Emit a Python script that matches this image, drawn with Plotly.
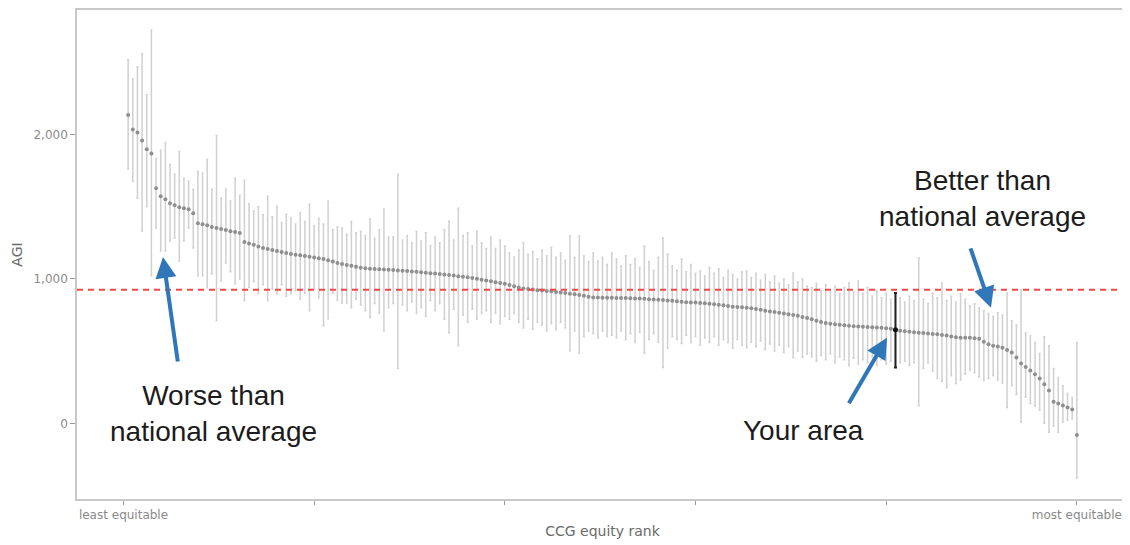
import plotly.graph_objects as go

# ---------------- data ----------------
rank = list(range(1, 206))

agi = [
    2135, 2034, 2014, 1959, 1897, 1869, 1628, 1572, 1552, 1524,
    1510, 1497, 1490, 1483, 1455, 1386, 1379, 1372, 1359, 1352,
    1345, 1338, 1330, 1324, 1318, 1255, 1245, 1236, 1224, 1214,
    1207, 1200, 1193, 1186, 1179, 1172, 1168, 1163, 1158, 1153,
    1148, 1143, 1138, 1129, 1120, 1111, 1103, 1097, 1091, 1085,
    1078, 1074, 1071, 1069, 1067, 1065, 1063, 1061, 1059, 1057,
    1055, 1052, 1049, 1046, 1043, 1040, 1037, 1034, 1031, 1027,
    1023, 1019, 1015, 1011, 1007, 1001, 995, 989, 983, 977,
    972, 966, 958, 950, 941, 934, 930, 926, 922, 919,
    917, 914, 910, 906, 902, 898, 894, 889, 884, 877,
    872, 871, 870, 869, 869, 868, 868, 867, 866, 865,
    864, 862, 860, 858, 856, 854, 851, 848, 845, 841,
    839, 837, 836, 834, 831, 828, 825, 821, 817, 812,
    808, 805, 803, 800, 797, 792, 786, 779, 775, 771,
    766, 761, 756, 750, 745, 737, 729, 720, 711, 702,
    695, 690, 686, 682, 679, 676, 673, 671, 669, 667,
    665, 663, 661, 659, 655, 648, 641, 637, 634, 631,
    628, 625, 622, 619, 616, 612, 608, 601, 596, 593,
    593, 593, 589, 586, 565, 548, 538, 532, 524, 508,
    490, 455, 414, 390, 366, 340, 310, 270, 228, 150,
    138, 124, 110, 95, -80,
]

upper = [
    2517, 2386, 2469, 2559, 2276, 2724, 1834, 1890, 1945, 1793,
    1724, 1883, 1697, 1676, 1621, 1745, 1731, 1828, 1620, 1993,
    1560, 1621, 1540, 1697, 1580, 1683, 1520, 1470, 1500, 1445,
    1572, 1430, 1503, 1390, 1448, 1421, 1380, 1460, 1400, 1517,
    1370, 1420, 1380, 1538, 1340, 1360, 1352, 1310, 1400, 1320,
    1330, 1300, 1414, 1280, 1340, 1483, 1290, 1290, 1724, 1270,
    1300, 1250, 1330, 1260, 1320, 1230, 1290, 1250, 1340, 1400,
    1270, 1490, 1300, 1320, 1230, 1330, 1250, 1210, 1290, 1210,
    1270, 1228, 1180, 1150, 1200, 1250, 1170, 1190, 1140, 1200,
    1160, 1220, 1150, 1180, 1130, 1297, 1150, 1297, 1160, 1120,
    1180, 1124, 1150, 1100, 1180, 1138, 1090, 1160, 1100, 1140,
    1080, 1228, 1120, 1060, 1150, 1283, 1172, 1090, 1060, 1138,
    1050, 1100, 1040, 1055, 1020, 1080, 1040, 1070, 1010, 1060,
    1030, 1000, 1050, 1055, 1010, 1040, 990, 1030, 980, 1020,
    970, 1000, 960, 1041, 980, 1000, 950, 940, 970, 920,
    960, 910, 950, 900, 940, 972, 910, 986, 900, 940,
    880, 920, 870, 900, 860, 903, 870, 840, 880, 850,
    1145, 860, 830, 900, 870, 972, 850, 880, 840, 897,
    860, 814, 828, 800, 779, 760, 740, 766, 750, 903,
    710, 680, 924, 628, 607, 560, 483, 600, 538, 380,
    317, 260, 207, 179, 559,
]

lower = [
    1759, 1676, 1559, 1331, 1500, 1021, 1352, 1193, 1193, 1262,
    1283, 1124, 1262, 1352, 1214, 1021, 1021, 938, 1034, 710,
    986, 1110, 1050, 966, 1000, 848, 940, 980, 900, 960,
    848, 930, 897, 960, 880, 897, 920, 860, 900, 779,
    930, 870, 676, 724, 900, 850, 834, 834, 800, 860,
    820, 780, 731, 830, 760, 641, 800, 830, 379, 820,
    780, 840, 760, 800, 740, 850, 780, 830, 720, 628,
    790, 538, 750, 700, 790, 720, 760, 780, 700, 760,
    690, 740, 720, 760, 700, 660, 720, 650, 700, 680,
    640, 690, 650, 700, 660, 503, 640, 483, 600, 640,
    620, 590, 640, 600, 610, 593, 640, 580, 620, 560,
    630, 483, 580, 620, 560, 386, 520, 600, 580, 552,
    610, 560, 600, 540, 590, 560, 600, 540, 580, 560,
    520, 580, 540, 524, 560, 530, 570, 510, 550, 500,
    540, 490, 530, 455, 500, 455, 480, 460, 430, 470,
    440, 480, 420, 460, 440, 400, 450, 410, 440, 420,
    460, 400, 440, 410, 430, 386, 420, 430, 400, 420,
    124, 380, 420, 360, 310, 290, 248, 330, 276, 300,
    340, 366, 350, 320, 297, 310, 330, 300, 280, 110,
    260, 200, 7, 180, 138, 120, 90, 0, -62, -20,
    -62, 10, 21, 30, -379,
]

national_average = 925
your_area_rank = 166

tick_ranks = [0, 41, 82, 123, 164, 205]
tick_labels = ["least equitable", "", "", "", "", "most equitable"]
y_ticks = [0, 1000, 2000]
y_tick_labels = ["0", "1,000", "2,000"]

# ---------------- figure ----------------
err_plus = [u - c for u, c in zip(upper, agi)]
err_minus = [c - l for c, l in zip(agi, lower)]

fig = go.Figure()

fig.add_trace(go.Scatter(
    x=rank, y=agi, mode="markers",
    marker=dict(color="#8f8f8f", size=4),
    error_y=dict(type="data", symmetric=False, array=err_plus, arrayminus=err_minus,
                 color="#d0d0d0", thickness=1.5, width=1),
    showlegend=False, hoverinfo="skip",
))

k = your_area_rank - 1
fig.add_trace(go.Scatter(
    x=[rank[k]], y=[agi[k]], mode="markers",
    marker=dict(color="#111111", size=5),
    error_y=dict(type="data", symmetric=False, array=[upper[k] - agi[k]],
                 arrayminus=[agi[k] - lower[k]], color="#222222", thickness=2, width=1.5),
    showlegend=False, hoverinfo="skip",
))

fig.add_shape(type="line", xref="paper", yref="y", x0=0, x1=1,
              y0=national_average, y1=national_average,
              line=dict(color="#f04848", width=2, dash="6px,5px"))

# page body has an 8px margin: the figure box starts at (8, 8) in the window
OFF = 8
W, H = 1130 - OFF, 545 - OFF
PL, PR, PT, PB = 77, 1128, 8, 499   # plot box in window pixels


def px(xp):
    return (xp - PL) / (PR - PL)


def py(yp):
    return (PB - yp) / (PB - PT)


text_font = dict(family="Liberation Sans, Arial, sans-serif", size=28, color="#1c1c1c")
for txt, cx, cy in [("Worse than<br>national average", 213, 413),
                    ("Your area", 803, 430),
                    ("Better than<br>national average", 982, 197)]:
    fig.add_annotation(text=txt, xref="paper", yref="paper", x=px(cx), y=py(cy),
                       showarrow=False, font=text_font, xanchor="center", yanchor="middle")

arrow_color = "#2f77b8"
for (hx, hy), (tx, ty) in [((163, 256), (178, 362)),
                           ((887, 337), (848, 404)),
                           ((991, 307), (970, 246))]:
    fig.add_annotation(text="", xref="paper", yref="paper", x=px(hx), y=py(hy),
                       ax=tx - hx, ay=ty - hy, showarrow=True,
                       arrowhead=2, arrowsize=1.05, arrowwidth=4, arrowcolor=arrow_color,
                       standoff=0, startstandoff=0)

axis_font = dict(family="DejaVu Sans, sans-serif", size=12, color="#8a8a8a")
title_font = dict(family="DejaVu Sans, sans-serif", size=14, color="#6a6a6a")
fig.update_xaxes(range=[-10, 216], tickvals=tick_ranks, ticktext=tick_labels,
                 ticks="outside", ticklen=4, tickcolor="#9a9a9a", tickwidth=1,
                 showgrid=False, zeroline=False,
                 showline=True, mirror=True, linecolor="#c8c8c8", linewidth=1.5,
                 tickfont=axis_font,
                 title=dict(text="CCG equity rank", font=title_font, standoff=5))
fig.update_yaxes(range=[-524, 2862], tickvals=y_ticks, ticktext=y_tick_labels,
                 ticks="outside", ticklen=5, tickcolor="#9a9a9a", tickwidth=1,
                 showgrid=False, zeroline=False,
                 showline=True, mirror=True, linecolor="#c8c8c8", linewidth=1.5,
                 tickfont=axis_font,
                 title=dict(text="AGI", font=title_font, standoff=8))

fig.update_layout(width=W, height=H,
                  margin=dict(l=PL - OFF, r=1130 - PR, t=PT - OFF, b=545 - PB),
                  paper_bgcolor="white", plot_bgcolor="white")

fig.write_html("out.html")
